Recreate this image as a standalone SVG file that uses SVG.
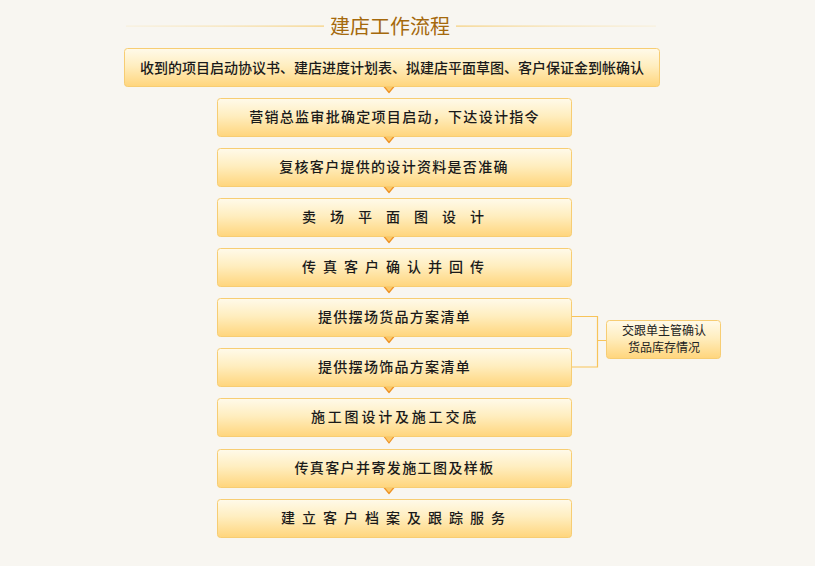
<svg xmlns="http://www.w3.org/2000/svg" width="815" height="566" viewBox="0 0 815 566">
<style>
.box{fill:url(#g);stroke:#f7cd73;stroke-width:1}
.t{font-family:"Noto Sans CJK SC","Liberation Sans",sans-serif;font-size:14px;font-weight:500;fill:#1a1a1a;text-anchor:middle}
.s{font-family:"Noto Sans CJK SC","Liberation Sans",sans-serif;font-size:12px;fill:#222;text-anchor:middle}
.arr{fill:#fbc868;stroke:#ee9326;stroke-width:1.2;stroke-linejoin:round}
.con{fill:none;stroke:#f8c45a;stroke-width:1.2}
</style>
<defs>
<linearGradient id="g" x1="0" y1="0" x2="0" y2="1">
<stop offset="0" stop-color="#fffaea"/>
<stop offset="0.45" stop-color="#ffeec0"/>
<stop offset="1" stop-color="#ffd57c"/>
</linearGradient>
<linearGradient id="lL" x1="0" y1="0" x2="1" y2="0">
<stop offset="0" stop-color="#f8e2ac" stop-opacity="0.3"/>
<stop offset="1" stop-color="#f6cf7a"/>
</linearGradient>
<linearGradient id="lR" x1="0" y1="0" x2="1" y2="0">
<stop offset="0" stop-color="#f6cf7a"/>
<stop offset="1" stop-color="#f8e2ac" stop-opacity="0.3"/>
</linearGradient>
</defs>
<rect width="815" height="566" fill="#f8f6f1"/>
<g id="title">
<rect x="126" y="25.5" width="198" height="1.2" fill="url(#lL)"/>
<rect x="456" y="25.5" width="200" height="1.2" fill="url(#lR)"/>
<text x="390" y="34" font-family="'Noto Sans CJK SC','Liberation Sans',sans-serif" font-size="20" fill="#a5690c" text-anchor="middle">建店工作流程</text>
</g>
<g id="connectors">
<path class="arr" d="M384 86.5 L394 86.5 L389 92.5 Z"/>
<path class="arr" d="M384 136.5 L394 136.5 L389 142.5 Z"/>
<path class="arr" d="M384 186.5 L394 186.5 L389 192.5 Z"/>
<path class="arr" d="M384 236.5 L394 236.5 L389 242.5 Z"/>
<path class="arr" d="M384 286.5 L394 286.5 L389 292.5 Z"/>
<path class="arr" d="M384 336.5 L394 336.5 L389 342.5 Z"/>
<path class="arr" d="M384 386.5 L394 386.5 L389 392.5 Z"/>
<path class="arr" d="M384 436.5 L394 436.5 L389 443 Z"/>
<path class="arr" d="M384 487.5 L394 487.5 L389 493.5 Z"/>
<path class="con" d="M572 316.5 H597.5 V367 H572 M597.5 340.5 H606"/>
</g>
<g id="n0"><rect class="box" x="124.5" y="48.5" width="535" height="38" rx="3"/><text class="t" x="392" y="73">收到的项目启动协议书、建店进度计划表、拟建店平面草图、客户保证金到帐确认</text></g>
<g id="n1"><rect class="box" x="217.5" y="98.5" width="354" height="38" rx="3"/><text class="t" x="394.5" y="122" letter-spacing="1.3">营销总监审批确定项目启动，下达设计指令</text></g>
<g id="n2"><rect class="box" x="217.5" y="148.5" width="354" height="38" rx="3"/><text class="t" x="394" y="172" letter-spacing="1.3">复核客户提供的设计资料是否准确</text></g>
<g id="n3"><rect class="box" x="217.5" y="198.5" width="354" height="38" rx="3"/><text class="t" x="400" y="222" letter-spacing="14">卖场平面图设计</text></g>
<g id="n4"><rect class="box" x="217.5" y="248.5" width="354" height="38" rx="3"/><text class="t" x="396.5" y="272" letter-spacing="7">传真客户确认并回传</text></g>
<g id="n5"><rect class="box" x="217.5" y="298.5" width="354" height="38" rx="3"/><text class="t" x="394.5" y="322" letter-spacing="1.3">提供摆场货品方案清单</text></g>
<g id="n6"><rect class="box" x="217.5" y="348.5" width="354" height="38" rx="3"/><text class="t" x="394.5" y="372" letter-spacing="1.3">提供摆场饰品方案清单</text></g>
<g id="n7"><rect class="box" x="217.5" y="398.5" width="354" height="38" rx="3"/><text class="t" x="395" y="422" letter-spacing="2.8">施工图设计及施工交底</text></g>
<g id="n8"><rect class="box" x="217.5" y="449.5" width="354" height="38" rx="3"/><text class="t" x="394.5" y="473" letter-spacing="1.4">传真客户并寄发施工图及样板</text></g>
<g id="n9"><rect class="box" x="217.5" y="499.5" width="354" height="38" rx="3"/><text class="t" x="396.5" y="523" letter-spacing="7">建立客户档案及跟踪服务</text></g>
<g id="side"><rect class="box" x="606.5" y="320.5" width="114" height="38" rx="3"/><text class="s" x="664" y="335">交跟单主管确认</text><text class="s" x="664" y="352">货品库存情况</text></g>
</svg>
